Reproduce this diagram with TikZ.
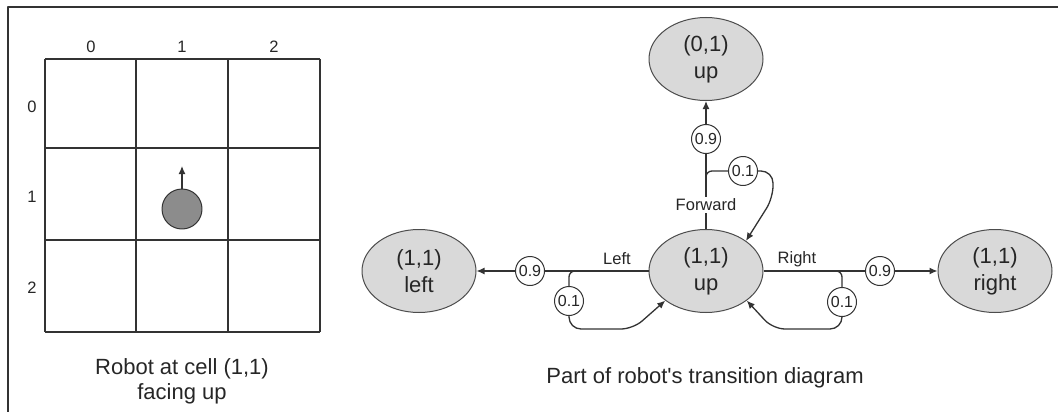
\documentclass[tikz,border=0pt]{standalone}
\usepackage{fontspec}
\setmainfont{Liberation Sans}
\usepackage{tikz}
\usetikzlibrary{arrows.meta, shapes.geometric, calc}

\begin{document}
\begin{tikzpicture}[x=1pt, y=-1pt, line join=round,
    state/.style={ellipse, draw=black!70, line width=1pt, fill=black!15,
      inner sep=0pt, minimum width=114, minimum height=83, align=center,
      text=black!85, font=\fontsize{22}{27}\selectfont},
    prob/.style={circle, draw=black!80, line width=1pt, fill=white,
      inner sep=0.5pt, minimum size=29, text=black!85, font=\fontsize{16}{16}\selectfont},
    lbl/.style={text=black!85, font=\fontsize{16.5}{16.5}\selectfont},
    wire/.style={draw=black!80, line width=1.3pt},
    >={Latex[length=8pt,width=7pt]}]
    \useasboundingbox (0,0) rectangle (1058,412);

    % 外框
    \draw[line width=2pt, black!80] (8,412) -- (8,7) -- (1058,7);

    % 绘制 3x3 网格
    \foreach \x in {45,136,228,320}
      \draw[line width=1.3pt, black!80] (\x,59) -- (\x,332);
    \foreach \y in {59,148,240,332}
      \draw[line width=1.3pt, black!80] (45,\y) -- (320,\y);

    % 行号和列号
    \foreach \i/\x in {0/91,1/182,2/274}
      \node[lbl] (col\i) at (\x,47) {\i};
    \foreach \i/\y in {0/107,1/197,2/288}
      \node[lbl] (row\i) at (32,\y) {\i};

    % 机器人及其朝向
    \node[circle, draw=black!80, line width=1pt, fill=black!45, minimum size=40]
      (robot) at (182,209) {};
    \coordinate (head) at (182,166);
    \draw[wire, ->] (robot.north) -- (head);

    \node[align=center, text=black!85, font=\fontsize{22}{25}\selectfont]
      (gridcap) at (182,381) {Robot at cell (1,1)\\facing up};

    % 状态结点
    \node[state] (c) at (706,271) {(1,1)\\up};
    \node[state] (top) at (706,59) {(0,1)\\up};
    \node[state] (left) at (419,271) {(1,1)\\left};
    \node[state] (right) at (995,271) {(1,1)\\right};

    % 概率结点
    \node[prob] (p9top) at (706,139) {0.9};
    \node[prob] (p1top) at (743,171) {0.1};
    \node[prob] (p9left) at (530,271) {0.9};
    \node[prob] (p1left) at (569,301) {0.1};
    \node[prob] (p9right) at (880,271) {0.9};
    \node[prob] (p1right) at (842,302) {0.1};

    % Forward
    \draw[wire] (c.north) -- (p9top);
    \draw[wire, ->] (p9top) -- (top.south);
    \coordinate (bt) at (706,181);
    \draw[wire, rounded corners=6] (bt) |- (p1top);
    \draw[wire, ->, rounded corners=12] (p1top) -- (773,171) -- (773,198) -- (c.37);
    \node[lbl, fill=white, inner sep=2pt] (fwd) at (706,205) {Forward};

    % Left
    \draw[wire] (c.west) -- (p9left);
    \draw[wire, ->] (p9left) -- (left.east);
    \coordinate (bl) at (580,271);
    \draw[wire, rounded corners=6] (bl) -| (p1left);
    \draw[wire, ->, rounded corners=12] (p1left) |- (633,329) -- (c.216);
    \node[lbl] (lname) at (617,259) {Left};

    % Right
    \draw[wire] (c.east) -- (p9right);
    \draw[wire, ->] (p9right) -- (right.west);
    \coordinate (br) at (831,271);
    \draw[wire, rounded corners=6] (br) -| (p1right);
    \draw[wire, ->, rounded corners=12] (p1right) |- (773,329) -- (c.-36);
    \node[lbl] (rname) at (797,259) {Right};

    \node[text=black!85, font=\fontsize{22}{25}\selectfont]
      (diagcap) at (705,378) {Part of robot\textquotesingle s transition diagram};
\end{tikzpicture}
\end{document}
